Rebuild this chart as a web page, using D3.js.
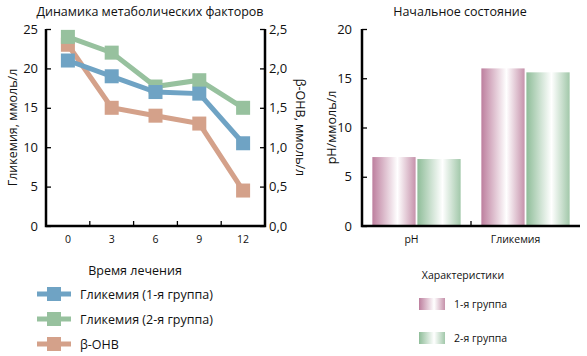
<!DOCTYPE html>
<html><head><meta charset="utf-8">
<script src="https://cdn.jsdelivr.net/npm/d3@7"></script>
<style>body{margin:0;background:#fff}svg{display:block}text{font-family:"Open Sans",sans-serif;fill:#111}</style>
</head><body><svg id="c" width="587" height="356"></svg>
<script>
const months = ["0","3","6","9","12"];
const glyc1 = [21, 19, 17, 16.8, 10.5];
const glyc2 = [24, 22, 17.7, 18.5, 15];
const bohb = [2.3, 1.5, 1.4, 1.3, 0.45];
const leftTicks = [0,5,10,15,20,25];
const rightTicks = [0,0.5,1,1.5,2,2.5];
const barCats = ["pH","Гликемия"];
const group1 = [7.0, 16.0];
const group2 = [6.8, 15.6];
const barTicks = [0,5,10,15,20];

const svg = d3.select("#c");
const FS = 12.5, TS = 13;
const colors = {g1:"#6fa3c4", g2:"#97c19e", b:"#d4a18a"};

// ---------- left chart ----------
const L = {x0:46, x1:265, y0:29, y1:226};
const x = d3.scaleBand().domain(months).range([L.x0, L.x1]);
const yL = d3.scaleLinear().domain([0,25]).range([L.y1, L.y0]);
const yR = d3.scaleLinear().domain([0,2.5]).range([L.y1, L.y0]);

svg.append("text").attr("x",150).attr("y",16).attr("text-anchor","middle").attr("font-size",FS).text("Динамика метаболических факторов");

const ax = svg.append("g").attr("transform",`translate(0,${L.y1})`)
  .call(d3.axisBottom(x).tickSize(0).tickPadding(10));
ax.select(".domain").remove();
ax.selectAll("text").attr("font-size",10.5).attr("font-family","Open Sans");
const bounds = months.slice(1).map(m => x(m));
svg.append("g").selectAll("line").data(bounds).join("line")
  .attr("x1",d=>d).attr("x2",d=>d).attr("y1",L.y1).attr("y2",L.y1-5).attr("stroke","#000").attr("stroke-width",1.3);

const aL = svg.append("g").attr("transform",`translate(${L.x0},0)`)
  .call(d3.axisLeft(yL).tickValues(leftTicks).tickSizeInner(-5).tickSizeOuter(0).tickPadding(8));
aL.selectAll("text").attr("font-size",TS).attr("font-family","Open Sans");
aL.selectAll(".tick line").attr("stroke-width",1.3);
const aR = svg.append("g").attr("transform",`translate(${L.x1},0)`)
  .call(d3.axisRight(yR).tickValues(rightTicks).tickSizeInner(-5).tickSizeOuter(0).tickPadding(4)
    .tickFormat(d=>d3.format(".1f")(d).replace(".",",")));
aR.selectAll("text").attr("font-size",TS).attr("font-family","Open Sans");
aR.selectAll(".tick line").attr("stroke-width",1.3);
svg.append("path").attr("d",`M${L.x0},${L.y0}V${L.y1}H${L.x1}V${L.y0}`).attr("fill","none").attr("stroke","#000").attr("stroke-width",2.5);
[aL,aR].forEach(a=>a.select(".domain").remove());

svg.append("text").attr("transform",`translate(17,${(L.y0+L.y1)/2}) rotate(-90)`).attr("text-anchor","middle").attr("font-size",FS).text("Гликемия, ммоль/л");
svg.append("text").attr("transform",`translate(296,${(L.y0+L.y1)/2}) rotate(90)`).attr("text-anchor","middle").attr("font-size",FS).text("β-OHB, ммоль/л");

const cx = m => x(m) + x.bandwidth()/2;
function series(vals, scale, col){
  const line = d3.line().x((d,i)=>cx(months[i])).y(d=>scale(d));
  svg.append("path").attr("d",line(vals)).attr("fill","none").attr("stroke",col).attr("stroke-width",5);
  svg.append("g").selectAll("rect").data(vals).join("rect")
    .attr("x",(d,i)=>cx(months[i])-7).attr("y",d=>scale(d)-7).attr("width",14).attr("height",14).attr("fill",col);
}
series(bohb, yR, colors.b);
series(glyc2, yL, colors.g2);
series(glyc1, yL, colors.g1);

svg.append("text").attr("x",135).attr("y",275).attr("text-anchor","middle").attr("font-size",FS).text("Время лечения");
const legL = [["Гликемия (1-я группа)",colors.g1],["Гликемия (2-я группа)",colors.g2],["β-OHB",colors.b]];
legL.forEach((d,i)=>{
  const yy = 294 + i*25;
  svg.append("line").attr("x1",37).attr("x2",71).attr("y1",yy).attr("y2",yy).attr("stroke",d[1]).attr("stroke-width",5);
  svg.append("rect").attr("x",47).attr("y",yy-7).attr("width",14).attr("height",14).attr("fill",d[1]);
  svg.append("text").attr("x",80).attr("y",yy+4.5).attr("font-size",FS).text(d[0]);
});

// ---------- right chart ----------
const R = {x0:362, x1:580, y0:29, y1:226};
const xb = d3.scaleBand().domain(barCats).range([R.x0, R.x1]).paddingInner(0.19).paddingOuter(0.095);
const xs = d3.scaleBand().domain(["1","2"]).range([0, xb.bandwidth()]).paddingInner(0.04);
const yb = d3.scaleLinear().domain([0,20]).range([R.y1, R.y0]);

const defs = svg.append("defs");
function grad(id, a, b){
  const g = defs.append("linearGradient").attr("id",id).attr("x1","0").attr("x2","1").attr("y1","0").attr("y2","0");
  g.append("stop").attr("offset","0%").attr("stop-color",a);
  g.append("stop").attr("offset","58%").attr("stop-color","#ffffff");
  g.append("stop").attr("offset","100%").attr("stop-color",b);
}
grad("gp","#bd7f9e","#c692ab");
grad("gg","#8fbd99","#a2c8aa");

svg.append("text").attr("x",460).attr("y",16).attr("text-anchor","middle").attr("font-size",FS).text("Начальное состояние");

const ab = svg.append("g").attr("transform",`translate(${R.x0},0)`)
  .call(d3.axisLeft(yb).tickValues(barTicks).tickSizeInner(-5).tickSizeOuter(0).tickPadding(10));
ab.select(".domain").remove();
ab.selectAll("text").attr("font-size",TS).attr("font-family","Open Sans");
ab.selectAll(".tick line").attr("stroke-width",1.3);

const bg = svg.append("g");
barCats.forEach((c,i)=>{
  [[group1[i],"1","url(#gp)"],[group2[i],"2","url(#gg)"]].forEach(([v,k,f])=>{
    bg.append("rect").attr("x",xb(c)+xs(k)).attr("y",yb(v)).attr("width",xs.bandwidth()).attr("height",yb(0)-yb(v)).attr("fill",f);
  });
});
svg.append("path").attr("d",`M${R.x0},${R.y0}V${R.y1}H${R.x1}`).attr("fill","none").attr("stroke","#000").attr("stroke-width",2.5);
const mid = (xb("pH")+xb.bandwidth()+xb("Гликемия"))/2;
svg.append("line").attr("x1",mid).attr("x2",mid).attr("y1",R.y1).attr("y2",R.y1-5).attr("stroke","#000").attr("stroke-width",1.3);

const axb = svg.append("g").attr("transform",`translate(0,${R.y1})`)
  .call(d3.axisBottom(xb).tickSize(0).tickPadding(10));
axb.select(".domain").remove();
axb.selectAll("text").attr("font-size",10.5).attr("font-family","Open Sans").attr("dx",d=>d==="pH"?-5:-10);

svg.append("text").attr("transform",`translate(336,${(R.y0+R.y1)/2}) rotate(-90)`).attr("text-anchor","middle").attr("font-size",FS).text("pH/ммоль/л");

svg.append("text").attr("x",463).attr("y",279).attr("text-anchor","middle").attr("font-size",10.5).text("Характеристики");
[["1-я группа","url(#gp)"],["2-я группа","url(#gg)"]].forEach((d,i)=>{
  const yy = 298 + i*34;
  svg.append("rect").attr("x",419).attr("y",yy).attr("width",26).attr("height",12).attr("fill",d[1]);
  svg.append("text").attr("x",454).attr("y",yy+10).attr("font-size",10.5).text(d[0]);
});
</script></body></html>
